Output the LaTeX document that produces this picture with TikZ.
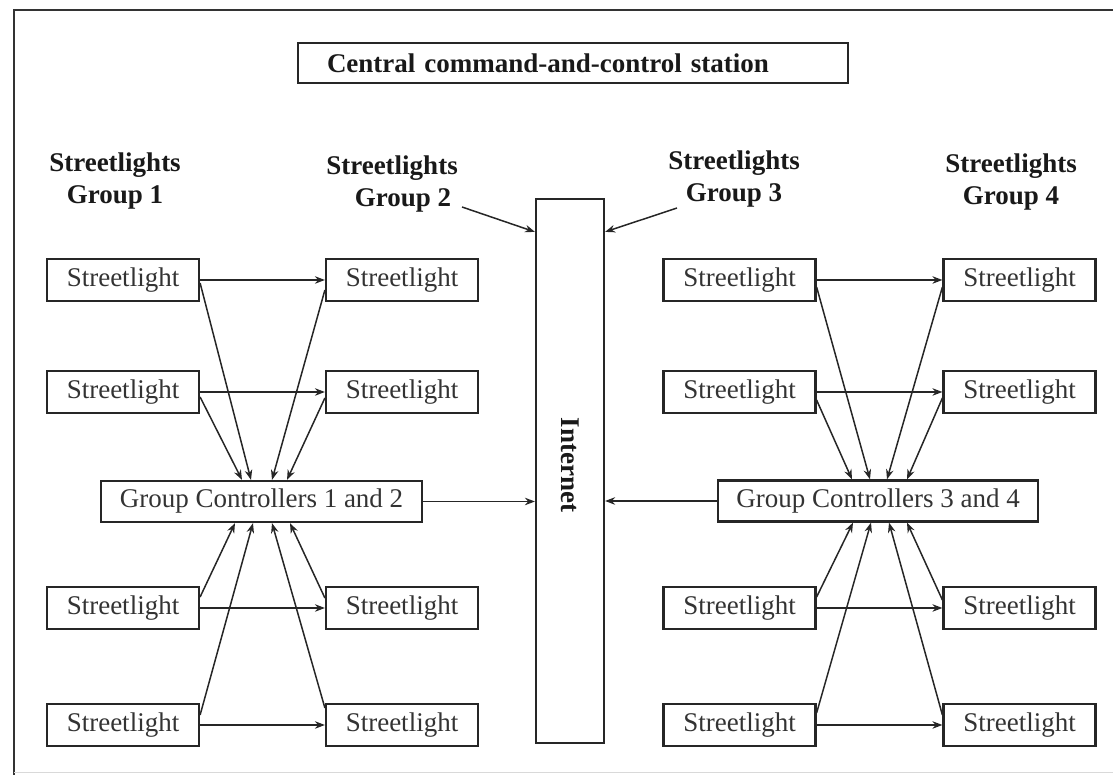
\documentclass[tikz,border=0pt]{standalone}
\usepackage{fontspec}
\setmainfont{Liberation Serif}
\usetikzlibrary{arrows.meta}
\begin{document}
\begin{tikzpicture}[x=1pt,y=1pt,
  slbox/.style={draw=black!85, line width=2.2pt, minimum width=152, minimum height=42, inner sep=0pt,
     font=\fontsize{27}{31}\selectfont, text=black!80},
  gcbox/.style={draw=black!85, line width=2.2pt, minimum height=41, inner sep=0pt,
     font=\fontsize{27}{31}\selectfont, text=black!80},
  grplabel/.style={align=center, font=\fontsize{27}{32}\selectfont\bfseries, text=black!90, inner sep=0pt},
  arr/.style={draw=black!85, line width=1.5pt, -{Stealth[length=10pt,width=7.5pt]}}
]
\useasboundingbox (0,0) rectangle (1113,775);
% frame
\draw[black!80, line width=2.2pt] (14,0) -- (14,765) -- (1113,765);
\draw[black!15, line width=1pt] (14,2) -- (1113,2);

% central station
\node[draw=black!85, line width=2.2pt, minimum height=40, text width=492, inner xsep=29, inner ysep=0pt,
      align=left, font=\fontsize{27}{32}\selectfont\bfseries, text=black!90] (cc) at (573,712)
      {Central command-and-control station};

% group labels
\node[grplabel] (g1) at (115,594) {Streetlights\\Group 1};
\node[grplabel] (g2) at (392,591) {Streetlights\\\hspace*{22pt}Group 2};
\node[grplabel] (g3) at (734,596) {Streetlights\\Group 3};
\node[grplabel] (g4) at (1011,593) {Streetlights\\Group 4};

% internet
\node[draw=black!85, line width=2.2pt, minimum width=68, minimum height=544, inner sep=0pt] (net) at (570,304) {};
\node[rotate=-90, font=\fontsize{27}{32}\selectfont\bfseries, text=black!90, inner sep=0pt] (nettxt) at (570,310) {Internet};

% left group
\node[slbox] (l1a) at (123,495) {Streetlight};
\node[slbox] (l1b) at (402,495) {Streetlight};
\node[slbox] (l2a) at (123,383) {Streetlight};
\node[slbox] (l2b) at (402,383) {Streetlight};
\node[slbox] (l3a) at (123,167) {Streetlight};
\node[slbox] (l3b) at (402,167) {Streetlight};
\node[slbox] (l4a) at (123,50) {Streetlight};
\node[slbox] (l4b) at (402,50) {Streetlight};
\node[gcbox, minimum width=321] (gc1) at (261.5,273.5) {Group Controllers 1 and 2};

% right group
\node[slbox] (r1a) at (739.5,495) {Streetlight};
\node[slbox] (r1b) at (1019.5,495) {Streetlight};
\node[slbox] (r2a) at (739.5,383) {Streetlight};
\node[slbox] (r2b) at (1019.5,383) {Streetlight};
\node[slbox] (r3a) at (739.5,167) {Streetlight};
\node[slbox] (r3b) at (1019.5,167) {Streetlight};
\node[slbox] (r4a) at (739.5,50) {Streetlight};
\node[slbox] (r4b) at (1019.5,50) {Streetlight};
\node[gcbox, minimum width=320] (gc2) at (878,274) {Group Controllers 3 and 4};

% horizontal arrows
\foreach \s in {l1,l2,l3,l4,r1,r2,r3,r4}{
  \draw[arr] (\s a.east) -- (\s b.west);
}

% left diagonal arrows
\draw[arr] ([yshift=-3pt]l1a.east) -- ([xshift=-10.5pt]gc1.north);
\draw[arr] ([yshift=-5pt]l2a.east) -- ([xshift=-19.5pt]gc1.north);
\draw[arr] ([yshift=-10pt]l1b.west) -- ([xshift=10.5pt]gc1.north);
\draw[arr] ([yshift=-6pt]l2b.west) -- ([xshift=25.5pt]gc1.north);
\draw[arr] ([yshift=11pt]l3a.east) -- ([xshift=-26.5pt]gc1.south);
\draw[arr] ([yshift=10pt]l4a.east) -- ([xshift=-8.5pt]gc1.south);
\draw[arr] ([yshift=17pt]l4b.west) -- ([xshift=10.5pt]gc1.south);
\draw[arr] ([yshift=10pt]l3b.west) -- ([xshift=28.5pt]gc1.south);

% right diagonal arrows
\draw[arr] ([yshift=-7pt]r1a.east) -- ([xshift=-8pt]gc2.north);
\draw[arr] ([yshift=-8pt]r2a.east) -- ([xshift=-26pt]gc2.north);
\draw[arr] ([yshift=-7pt]r1b.west) -- ([xshift=9pt]gc2.north);
\draw[arr] ([yshift=-6pt]r2b.west) -- ([xshift=29pt]gc2.north);
\draw[arr] ([yshift=11pt]r3a.east) -- ([xshift=-25pt]gc2.south);
\draw[arr] ([yshift=12pt]r4a.east) -- ([xshift=-7pt]gc2.south);
\draw[arr] ([yshift=10pt]r4b.west) -- ([xshift=11pt]gc2.south);
\draw[arr] ([yshift=8pt]r3b.west) -- ([xshift=29pt]gc2.south);

% controllers to internet
\draw[arr] (gc1.east) -- (gc1.east -| net.west);
\draw[arr] (gc2.west) -- (gc2.west -| net.east);

% group label arrows
\coordinate (g2a) at (462,568);
\coordinate (g3a) at (677,567);
\draw[arr] (g2a) -- ([yshift=-34pt]net.north west);
\draw[arr] (g3a) -- ([yshift=-34pt]net.north east);
\end{tikzpicture}
\end{document}
